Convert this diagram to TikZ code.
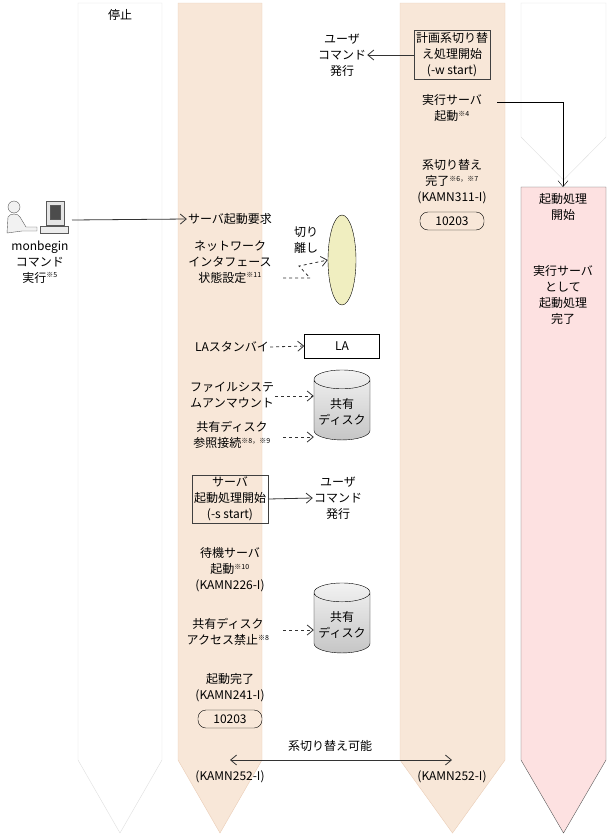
\documentclass[tikz,border=0pt]{standalone}
\usepackage{fontspec}
\setmainfont{Noto Sans CJK JP}
\usepackage{tikz}
\usetikzlibrary{shapes.geometric,arrows.meta}
\definecolor{beige}{HTML}{F8E7D8}
\definecolor{beigeline}{HTML}{EACDB6}
\definecolor{pinkfill}{HTML}{FDE1E1}
\definecolor{lafill}{HTML}{F0EEC0}
\tikzstyle{arrow} = [gray!40!black, thick, -{Straight Barb[length=6pt,width=10pt]}]
\tikzstyle{arrow_d} = [arrow, dashed]
\tikzstyle{lbl} = [align=center, inner sep=1pt]
\tikzstyle{stepbox} = [draw, thick, gray!50!black, text=black, align=center, inner sep=2pt]
\tikzstyle{msg} = [draw, rounded corners=8pt, minimum width=64pt, minimum height=18pt, inner sep=1pt]
\tikzstyle{disk} = [cylinder, draw, shape border rotate=90, aspect=0.35, minimum width=56pt, minimum height=70pt, align=center, top color=gray!10, bottom color=gray!45]
\newcommand{\nt}[1]{\textsuperscript{\fontsize{7}{7}\selectfont ※#1}}
\newcommand{\lane}[6]{\draw[#1] (#2,#4) -- (#3,#4) -- (#3,#5) -- ({(#2+#3)/2},#6) -- (#2,#5) -- cycle;}

\begin{document}
\begin{tikzpicture}[x=1pt,y=-1pt,font=\fontsize{12}{16}\selectfont]
\useasboundingbox (0,0) rectangle (609,835);
% lanes
\lane{draw=gray!25, fill=white}{78}{162}{3}{760}{833}
\lane{draw=beigeline, fill=beige}{178}{262}{3}{760}{833}
\lane{draw=beigeline, fill=beige}{400}{505}{3}{760}{833}
\lane{draw=gray!25, fill=white}{521}{606}{3}{137}{180}
\lane{draw=gray!70!black, fill=pinkfill}{521}{606}{187}{760}{833}
\node (stop) at (120,15) {停止};

% user
\begin{scope}[shift={(40,215)}]
\draw[gray!70!black, fill=gray!10] (-26,-8) circle (6);
\draw[gray!70!black, fill=gray!10] (-33,18) -- (-32,2) .. controls (-30,-2) and (-22,-2) .. (-20,2) -- (-14,12) -- (-3,12) -- (-3,16) -- (-18,16) -- cycle;
\draw[gray!70!black, fill=gray!20] (6,-14) rectangle (24,10);
\draw[gray!70!black, fill=black!70] (10,-10) rectangle (20,4);
\draw[gray!70!black, fill=gray!15] (0,11) rectangle (28,18);
\end{scope}
\coordinate (user) at (72,220);
\node[lbl] (mon) at (40,262) {monbegin\\コマンド\\実行\nt{5}};

% standby lane
\node[lbl] (req) at (230,219) {サーバ起動要求};
\draw[arrow] (user) -- (req.west);
\node[lbl] (nic) at (230,262) {ネットワーク\\インタフェース\\状態設定\nt{11}};
\node[ellipse, draw, fill=lafill, minimum width=28pt, minimum height=90pt] (ip) at (342,260) {};
\node[lbl] (cut) at (306,240) {切り\\離し};
\draw[arrow_d] (283,278) -- (310,278) -- (299,266) -- (ip.west);
\node[lbl] (las) at (232,347) {LAスタンバイ};
\node[draw, minimum width=75pt, minimum height=24pt] (la) at (342,346) {LA};
\draw[arrow_d] (las.east) -- (la.west);
\node[lbl] (fs) at (232,395) {ファイルシステ\\ムアンマウント};
\node[lbl] (ref) at (232,435) {共有ディスク\\参照接続\nt{8，※9}};
\node[disk] (disk1) at (342,412) {共有\\ディスク};
\draw[arrow_d] (fs.east |- 0,396) -- (disk1.west |- 0,396);
\draw[arrow_d] (283,437) -- (disk1.west |- 0,437);
\node[stepbox] (sstart) at (230,499) {サーバ\\起動処理開始\\(-s start)};
\node[lbl] (ucmd1) at (338,498) {ユーザ\\コマンド\\発行};
\draw[arrow] (sstart.east) -- (ucmd1.west);
\node[lbl] (sby) at (230,570) {待機サーバ\\起動\nt{10}\\(KAMN226-I)};
\node[lbl] (deny) at (228,632) {共有ディスク\\アクセス禁止\nt{8}};
\node[disk] (disk2) at (342,625) {共有\\ディスク};
\draw[arrow_d] (283,630) -- (disk2.west |- 0,630);
\node[lbl] (done) at (230,688) {起動完了\\(KAMN241-I)};
\node[msg] (m1) at (230,719) {10203};
\node[lbl] (sw) at (330,746) {系切り替え可能};
\coordinate (swl) at (230,760);
\coordinate (swr) at (452,760);
\draw[arrow, {Straight Barb[length=6pt,width=10pt]}-{Straight Barb[length=6pt,width=10pt]}] (swl) -- (swr);
\node[lbl] (k1) at (230,777) {(KAMN252-I)};
\node[lbl] (k2) at (452,777) {(KAMN252-I)};

% active lane
\node[stepbox] (wstart) at (452,55) {計画系切り替\\え処理開始\\(-w start)};
\node[lbl] (ucmd2) at (342,55) {ユーザ\\コマンド\\発行};
\draw[arrow] (wstart.west) -- (ucmd2.east);
\node[lbl] (act) at (452,108) {実行サーバ\\起動\nt{4}};
\node[lbl] (swd) at (452,182) {系切り替え\\完了\nt{6，※7}\\(KAMN311-I)};
\node[msg] (m2) at (452,221) {10203};

% new lane
\node[lbl] (bst) at (563,207) {起動処理\\開始};
\node[lbl] (bdn) at (563,295) {実行サーバ\\として\\起動処理\\完了};
\draw[black, -{Straight Barb[length=6pt,width=10pt]}] (497,102) -| (563,187);
\end{tikzpicture}
\end{document}
